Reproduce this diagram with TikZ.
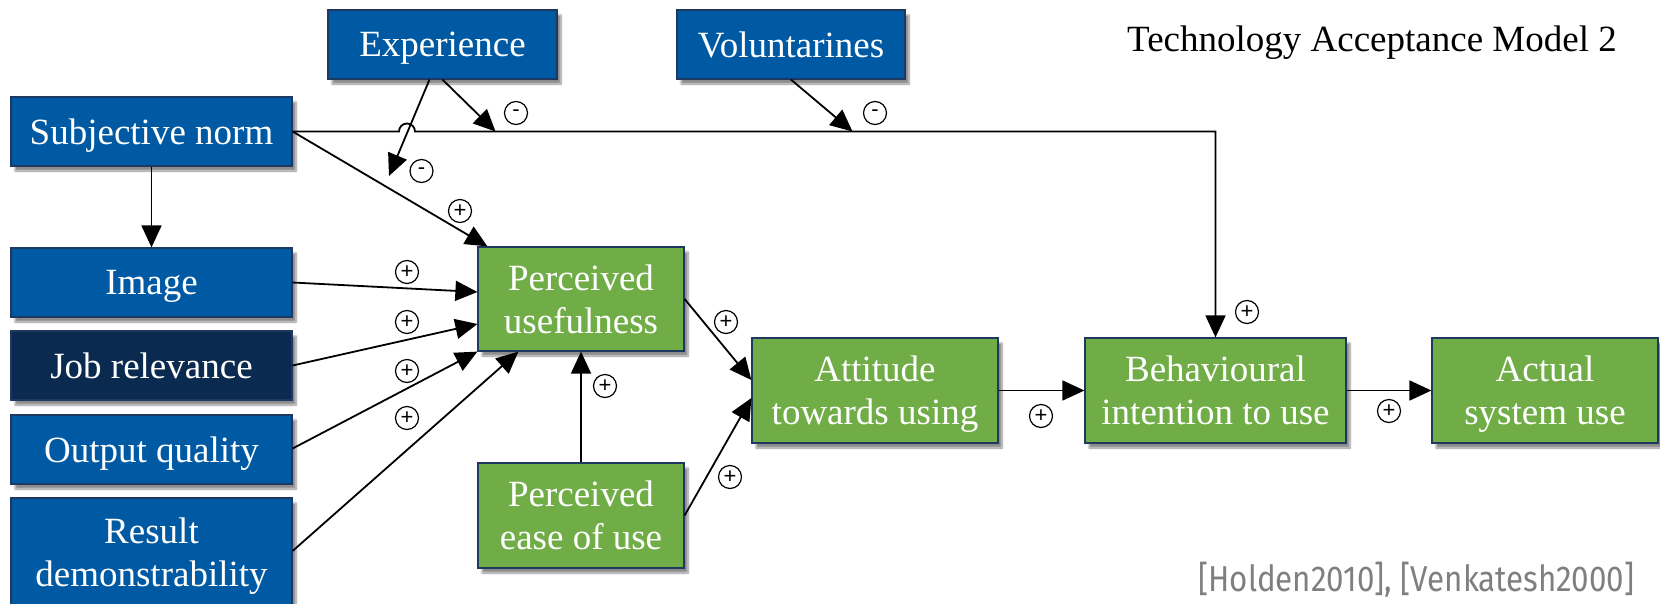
\documentclass[tikz,border=0pt]{standalone}
\usepackage{fontspec}
\setmainfont{Liberation Serif}
\newfontfamily\citefont[FakeStretch=0.87]{Fira Sans}
\newfontfamily\signfont{Liberation Sans}
\usetikzlibrary{arrows.meta,shadows.blur}
\definecolor{boxblue}{HTML}{0059A3}
\definecolor{boxnavy}{HTML}{0B2A4F}
\definecolor{boxgreen}{HTML}{70AD47}
\definecolor{boxline}{HTML}{1F3860}
\definecolor{citegray}{HTML}{7F7F7F}
\tikzset{
  box/.style={draw=boxline, line width=1.2pt, text=white, align=center, inner sep=0pt,
    font=\fontsize{37}{43}\selectfont, text depth=0pt,
    blur shadow={shadow xshift=4pt, shadow yshift=-5pt, shadow blur steps=8, shadow opacity=45}},
  bluebox/.style={box, fill=boxblue},
  navybox/.style={box, fill=boxnavy},
  greenbox/.style={box, fill=boxgreen},
  conn/.style={line width=1.8pt, -{Triangle[length=22pt,width=20pt]}},
  sign/.style={circle, draw, line width=1.2pt, minimum size=23pt, inner sep=0pt,
    font=\signfont\fontsize{22}{22}\selectfont}
}
\begin{document}
\begin{tikzpicture}[x=1pt,y=-1pt]
\useasboundingbox (0,0) rectangle (1660,603);
% boxes
\node[bluebox, minimum width=229pt, minimum height=69pt] (exp) at (442.5,44.5) {Experience};
\node[bluebox, minimum width=228pt, minimum height=69pt] (vol) at (791,44.5) {Voluntarines};
\node[bluebox, minimum width=281pt, minimum height=69pt] (sn) at (151.5,131.5) {Subjective norm};
\node[bluebox, minimum width=281pt, minimum height=69pt] (img) at (151.5,282.5) {Image};
\node[navybox, minimum width=281pt, minimum height=69pt] (job) at (151.5,365.5) {Job relevance};
\node[bluebox, minimum width=281pt, minimum height=69pt] (out) at (151.5,449.5) {Output quality};
\node[bluebox, minimum width=281pt, minimum height=108pt] (res) at (151.5,552) {Result\\demonstrability};
\node[greenbox, minimum width=206pt, minimum height=104pt] (pu) at (581,299) {Perceived\\usefulness};
\node[greenbox, minimum width=206pt, minimum height=105pt] (peou) at (581,515.5) {Perceived\\ease of use};
\node[greenbox, minimum width=246pt, minimum height=105pt] (att) at (875,390.5) {Attitude\\towards using};
\node[greenbox, minimum width=261pt, minimum height=105pt] (bi) at (1215.5,390.5) {Behavioural\\intention to use};
\node[greenbox, minimum width=226pt, minimum height=105pt] (act) at (1545,390.5) {Actual\\system use};
% title and citation
\node[anchor=base, font=\fontsize{37}{43}\selectfont] (title) at (1372,51) {Technology Acceptance Model 2};
\node[anchor=base east, text=citegray, font=\citefont\fontsize{36}{40}\selectfont] (cite) at (1638,591) {[Holden2010], [Venkatesh2000]};
% free ends
\coordinate (e1) at (495.5,131.5);
\coordinate (e2) at (389,176);
\coordinate (v1) at (852.5,131.5);
\coordinate (hopL) at (399,131.5);
% connectors
\draw[conn] (sn.east) -- (hopL) arc (180:360:8) -- (bi.north |- sn.east) -- (bi.north);
\draw[conn] (exp.south) -- (e1);
\draw[conn] ([xshift=-13pt]exp.south) -- (e2);
\draw[conn] (vol.south) -- (v1);
\draw[conn] (sn.east) -- ([xshift=10pt]pu.north west);
\draw[conn] (sn.south) -- (img.north);
\draw[conn] (img.east) -- ([yshift=7pt]pu.west);
\draw[conn] (job.east) -- ([yshift=-25pt]pu.west);
\draw[conn] ([yshift=1pt]out.east) -- (pu.south west);
\draw[conn] ([yshift=1pt]res.east) -- ([xshift=41pt]pu.south west);
\draw[conn] (peou.north) -- (pu.south);
\draw[conn] (pu.east) -- ([yshift=10.5pt]att.west);
\draw[conn] (peou.east) -- ([yshift=-7.5pt]att.west);
\draw[conn] (att.east) -- (bi.west);
\draw[conn] (bi.east) -- (act.west);
% signs
\node[sign] (s1) at (516,113) {-};
\node[sign] (s2) at (875,113) {-};
\node[sign] (s3) at (421.5,171) {-};
\node[sign] (s4) at (460,211) {+};
\node[sign] (s5) at (407,272) {+};
\node[sign] (s6) at (407,322) {+};
\node[sign] (s7) at (407,371) {+};
\node[sign] (s8) at (407,418) {+};
\node[sign] (s9) at (605,386) {+};
\node[sign] (s10) at (726,322) {+};
\node[sign] (s11) at (730,477) {+};
\node[sign] (s12) at (1041,416) {+};
\node[sign] (s13) at (1389,411) {+};
\node[sign] (s14) at (1247,312) {+};
\end{tikzpicture}
\end{document}
